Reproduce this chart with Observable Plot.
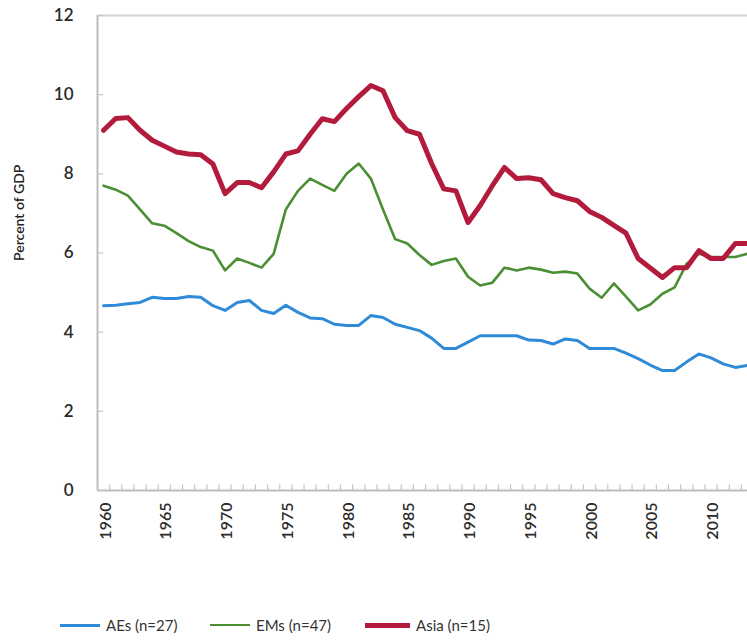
<!DOCTYPE html>
<html>
<head>
<meta charset="utf-8">
<script src="https://cdn.jsdelivr.net/npm/d3@7"></script>
<script src="https://cdn.jsdelivr.net/npm/@observablehq/plot@0.6"></script>
<style>
  html, body { margin: 0; padding: 0; background: #fff; }
  #wrap { position: relative; width: 747px; height: 641px; overflow: hidden; font-family: Lato, "Open Sans", sans-serif; }
  #legend { position: absolute; left: 0; top: 612px; width: 747px; height: 26px; }
  .item { position: absolute; top: 0; height: 26px; display: flex; align-items: center; font-size: 15px; color: #333; }
  .sw { display: inline-block; margin-right: 6px; }
</style>
</head>
<body>
<div id="wrap"><div id="chart"></div><div id="legend"></div></div>
<script>
const years = d3.range(1960, 2014);
const aes = [4.67,4.68,4.72,4.75,4.88,4.85,4.85,4.9,4.88,4.67,4.55,4.75,4.8,4.55,4.47,4.68,4.5,4.36,4.34,4.2,4.17,4.17,4.42,4.37,4.2,4.12,4.04,3.85,3.59,3.59,3.75,3.91,3.91,3.91,3.91,3.8,3.79,3.7,3.83,3.79,3.59,3.59,3.59,3.47,3.33,3.17,3.03,3.03,3.25,3.45,3.35,3.2,3.11,3.16];
const ems = [7.7,7.6,7.45,7.1,6.75,6.69,6.5,6.3,6.15,6.06,5.56,5.86,5.75,5.63,5.98,7.1,7.57,7.88,7.72,7.57,8.0,8.26,7.88,7.1,6.35,6.24,5.95,5.7,5.8,5.86,5.4,5.18,5.25,5.63,5.56,5.63,5.58,5.5,5.53,5.48,5.1,4.87,5.23,4.9,4.55,4.7,4.97,5.13,5.73,5.98,5.9,5.9,5.9,5.98];
const asia = [9.1,9.4,9.42,9.1,8.85,8.7,8.55,8.5,8.48,8.25,7.5,7.78,7.78,7.65,8.05,8.5,8.58,9.0,9.39,9.32,9.65,9.95,10.23,10.1,9.42,9.09,9.0,8.26,7.62,7.57,6.77,7.2,7.7,8.16,7.88,7.9,7.85,7.5,7.4,7.32,7.05,6.9,6.7,6.5,5.86,5.62,5.38,5.63,5.63,6.06,5.86,5.86,6.24,6.24];
const seriesNames = ["AEs (n=27)", "EMs (n=47)", "Asia (n=15)"];
const seriesColors = ["#2f8ad8", "#4a8f34", "#b21b3c"];
const seriesWidths = [3, 2.6, 5];
const yTicks = [0, 2, 4, 6, 8, 10, 12];
const xTickLabels = [1960, 1965, 1970, 1975, 1980, 1985, 1990, 1995, 2000, 2005, 2010];

const seriesValues = [aes, ems, asia];
const boundaries = d3.range(1959.5, 2013.5, 1);

const lineMarks = seriesValues.map((vals, i) =>
  Plot.line(years.map((yr, j) => ({year: yr, value: vals[j]})), {
    x: "year", y: "value", stroke: seriesColors[i], strokeWidth: seriesWidths[i],
    strokeLinejoin: "round", strokeLinecap: "round", clip: true
  })
);

const chart = Plot.plot({
  width: 747,
  height: 590,
  marginLeft: 97,
  marginRight: 0,
  marginTop: 15,
  marginBottom: 100,
  style: {fontFamily: "Lato, 'Open Sans', sans-serif", background: "#fff"},
  x: {domain: [1959.5, 2013], axis: null},
  y: {domain: [0, 12], axis: null},
  marks: [
    Plot.ruleY([12], {stroke: "#d4d4d4", strokeWidth: 2}),
    Plot.ruleY([0], {stroke: "#bdbdbd", strokeWidth: 2}),
    Plot.ruleX([1959.5], {stroke: "#bdbdbd", strokeWidth: 2}),
    Plot.ruleX(boundaries, {x: d => d, y1: 0, y2: 0.14, stroke: "#c4c4c4", strokeWidth: 1.2}),
    Plot.ruleY(yTicks, {y: d => d, x1: 1959.5, x2: 1960.0, stroke: "#c4c4c4", strokeWidth: 1.2}),
    Plot.axisY(yTicks, {label: null, tickSize: 0, tickPadding: 24, fontSize: 17, fontWeight: 600, fill: "#2a2a2a", tickFormat: d => String(d)}),
    Plot.axisX(xTickLabels, {label: null, tickSize: 0, tickPadding: 12, tickRotate: -90, fontSize: 16, fontWeight: 600, fill: "#2a2a2a", tickFormat: d => String(d), dx: 2}),
    Plot.text(["Percent of GDP"], {frameAnchor: "left", dx: -78, dy: 8, rotate: -90, fontSize: 14, fontWeight: 600, fill: "#222"}),
    ...lineMarks
  ]
});
document.getElementById("chart").appendChild(chart);

const legendPos = [{line: 60, w: 40}, {line: 210, w: 40}, {line: 365, w: 45}];
const legend = document.getElementById("legend");
seriesNames.forEach((name, i) => {
  const item = document.createElement("div");
  item.className = "item";
  item.style.left = legendPos[i].line + "px";
  const sw = document.createElement("span");
  sw.className = "sw";
  sw.style.width = legendPos[i].w + "px";
  sw.style.height = seriesWidths[i] + "px";
  sw.style.background = seriesColors[i];
  item.appendChild(sw);
  const t = document.createElement("span");
  t.textContent = name;
  item.appendChild(t);
  legend.appendChild(item);
});
</script>
</body>
</html>
